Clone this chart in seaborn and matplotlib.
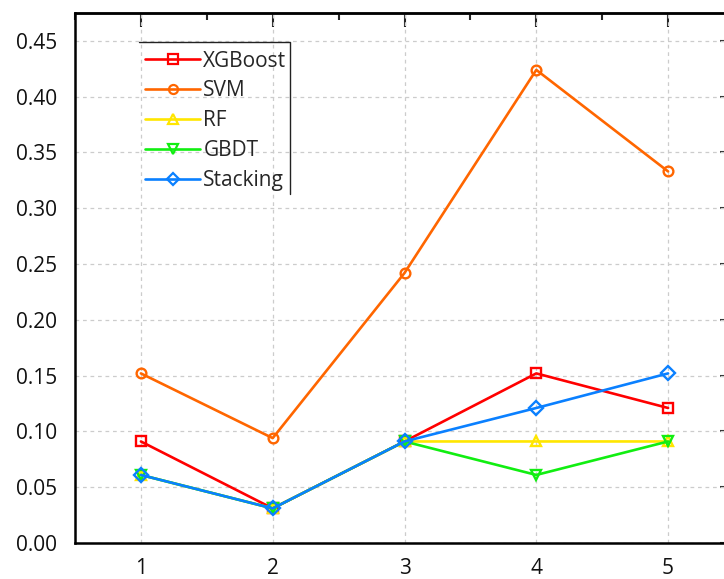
import matplotlib
matplotlib.use("Agg")
import matplotlib.pyplot as plt
from matplotlib.ticker import MultipleLocator, FixedLocator, FormatStrFormatter
import seaborn as sns
import pandas as pd

# Error values of each model for the five test groups
groups = [1, 2, 3, 4, 5]
xgboost = [0.091, 0.031, 0.091, 0.152, 0.121]
svm = [0.152, 0.094, 0.242, 0.424, 0.333]
rf = [0.061, 0.031, 0.091, 0.091, 0.091]
gbdt = [0.061, 0.031, 0.091, 0.061, 0.091]
stacking = [0.061, 0.031, 0.091, 0.121, 0.152]

models = ["XGBoost", "SVM", "RF", "GBDT", "Stacking"]
series = [xgboost, svm, rf, gbdt, stacking]
colors = {"XGBoost": "#FF0000", "SVM": "#FF6600", "RF": "#FFE600",
          "GBDT": "#11EE11", "Stacking": "#0A80FF"}
markers = {"XGBoost": "s", "SVM": "o", "RF": "^", "GBDT": "v", "Stacking": "D"}

df = pd.DataFrame({
    "group": [g for _ in models for g in groups],
    "value": [v for s in series for v in s],
    "model": [m for m in models for _ in groups],
})

sns.set_style("white")
plt.rcParams["font.family"] = ["Open Sans", "DejaVu Sans"]

fig = plt.figure(figsize=(7.24, 5.79), dpi=100)
ax = fig.add_axes([75 / 724, 36 / 579, 659 / 724, 530 / 579])

sns.lineplot(data=df, x="group", y="value", hue="model", style="model",
             hue_order=models, style_order=models, palette=colors,
             markers=markers, dashes=False, linewidth=1.9, markersize=7,
             ax=ax, zorder=3)

# Open markers outlined in the line colour
for line in ax.lines:
    line.set_markerfacecolor("none")
    line.set_markeredgecolor(line.get_color())
    line.set_markeredgewidth(1.7)

ax.set_xlim(0.5, 5.5)
ax.set_ylim(0, 0.475)
ax.set_xlabel("")
ax.set_ylabel("")

ax.xaxis.set_major_locator(FixedLocator(groups))
ax.xaxis.set_minor_locator(MultipleLocator(0.5))
ax.yaxis.set_major_locator(MultipleLocator(0.05))
ax.yaxis.set_minor_locator(MultipleLocator(0.025))
ax.yaxis.set_major_formatter(FormatStrFormatter("%.2f"))

ax.tick_params(axis="both", which="both", direction="out", color="black",
               labelsize=15, width=1.5, labelcolor="#111111")
ax.tick_params(axis="x", which="major", length=7, pad=4)
ax.tick_params(axis="x", which="minor", length=6)
ax.tick_params(axis="y", which="major", length=10, pad=3)
ax.tick_params(axis="y", which="minor", length=5)
for lab in ax.get_xticklabels() + ax.get_yticklabels():
    lab.set_fontweight("medium")

for side in ["left", "bottom", "top", "right"]:
    ax.spines[side].set_visible(True)
    ax.spines[side].set_color("black")
    ax.spines[side].set_linewidth(1.8)

ax.grid(True, which="major", color="#cccccc", linestyle=(0, (3, 3)),
        linewidth=0.9)
ax.set_axisbelow(True)

# Inward ticks on the top and right edges
top = ax.secondary_xaxis("top")
top.xaxis.set_major_locator(FixedLocator(groups))
top.xaxis.set_minor_locator(MultipleLocator(0.5))
top.tick_params(which="both", direction="in", labeltop=False, width=1.5)
top.tick_params(which="major", length=10)
top.tick_params(which="minor", length=5)
top.spines["top"].set_linewidth(1.8)

right = ax.secondary_yaxis("right")
right.yaxis.set_major_locator(MultipleLocator(0.05))
right.yaxis.set_minor_locator(MultipleLocator(0.025))
right.tick_params(which="both", direction="in", labelright=False, width=1.5)
right.tick_params(which="major", length=10)
right.tick_params(which="minor", length=5)

handles, labels = ax.get_legend_handles_labels()
leg = ax.legend(handles, labels, loc="upper left",
                bbox_to_anchor=(0.099, 0.939), frameon=False, fontsize=15,
                handlelength=2.6, handletextpad=0.18, labelspacing=0.43,
                borderaxespad=0.0, borderpad=0.25)
for h in leg.legend_handles:
    h.set_markerfacecolor("none")
    h.set_markeredgecolor(h.get_color())
    h.set_markeredgewidth(1.6)
    h.set_linewidth(1.9)
    h.set_markersize(6.5)

# Legend border drawn on its top and right edges
ax.plot([0.097, 0.3263, 0.3263], [0.9453, 0.9453, 0.6585], color="#222222",
        linewidth=1.0, transform=ax.transAxes, clip_on=False, zorder=5)

fig.savefig("out.png", dpi=100)
